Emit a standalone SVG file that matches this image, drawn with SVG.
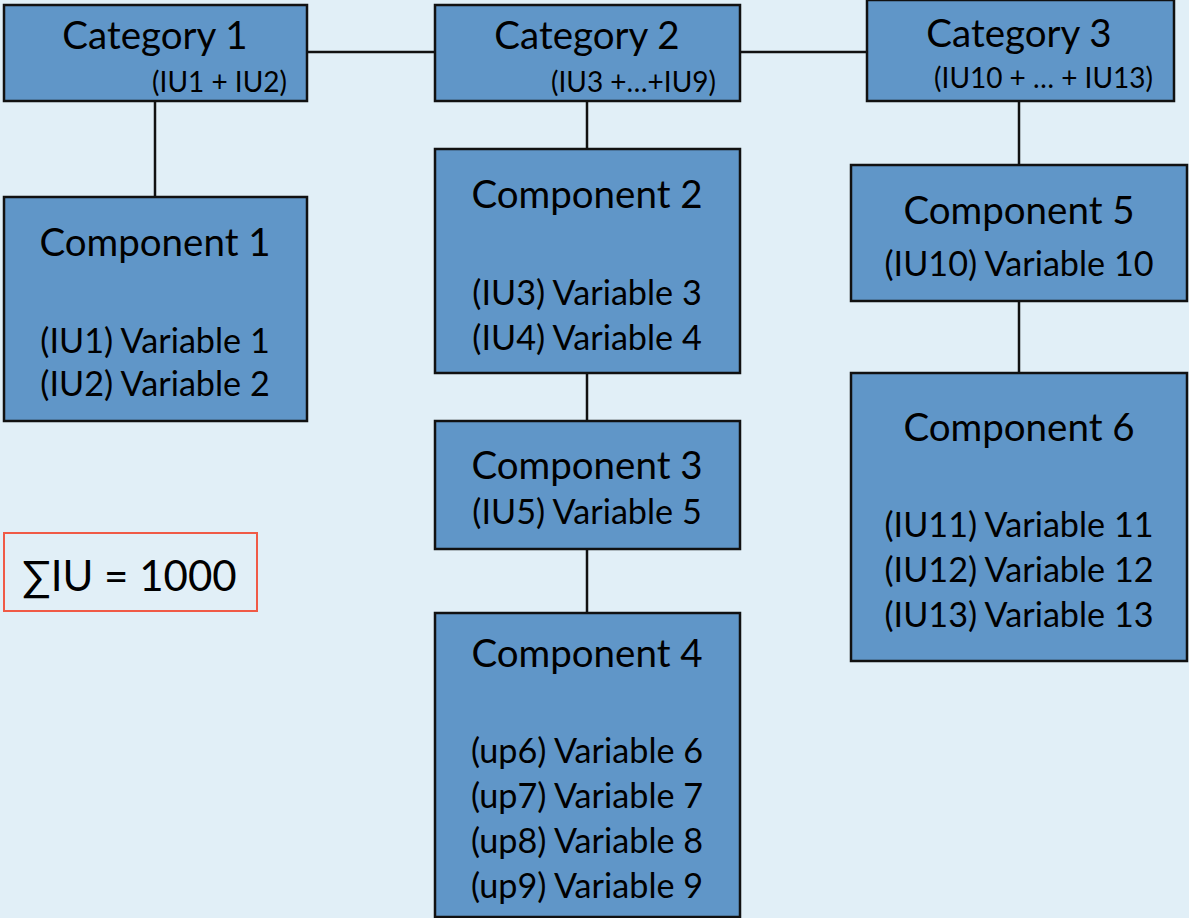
<svg xmlns="http://www.w3.org/2000/svg" width="1189" height="918" viewBox="0 0 1189 918">
<style>
.box{fill:#6096C8;stroke:#111;stroke-width:2.5}
.t{font-family:Lato,"Open Sans",sans-serif;fill:#000;text-anchor:middle;font-size:38.5px}
.v{font-size:34.2px}
.s{font-family:Lato,"Open Sans",sans-serif;fill:#000;font-size:28px;text-anchor:end}
.c line{stroke:#111;stroke-width:2.5}
</style>
<rect width="1189" height="918" fill="#E1EFF7"/>
<g class="c" id="connectors">
<line x1="307" y1="52" x2="435" y2="52"/>
<line x1="740" y1="52" x2="867" y2="52"/>
<line x1="155" y1="101" x2="155" y2="197"/>
<line x1="587" y1="101" x2="587" y2="149"/>
<line x1="587" y1="373" x2="587" y2="421"/>
<line x1="587" y1="549" x2="587" y2="613"/>
<line x1="1019" y1="101" x2="1019" y2="165"/>
<line x1="1019" y1="301" x2="1019" y2="373"/>
</g>
<g id="cat1"><rect class="box" x="4" y="5" width="303" height="96"/>
<text class="t" x="155" y="49">Category 1</text><text class="s" x="287" y="92">(IU1 + IU2)</text></g>
<g id="cat2"><rect class="box" x="435" y="5" width="305" height="96"/>
<text class="t" x="587" y="49">Category 2</text><text class="s" x="716" y="92">(IU3 +…+IU9)</text></g>
<g id="cat3"><rect class="box" x="867" y="0" width="307" height="101"/>
<text class="t" x="1019" y="47">Category 3</text><text class="s" x="1153" y="88">(IU10 + … + IU13)</text></g>
<g id="comp1"><rect class="box" x="4" y="197" width="303" height="224"/>
<text class="t" x="155" y="256">Component 1</text>
<text class="t v" x="155" y="353">(IU1) Variable 1</text>
<text class="t v" x="155" y="396">(IU2) Variable 2</text></g>
<g id="comp2"><rect class="box" x="435" y="149" width="305" height="224"/>
<text class="t" x="587" y="208">Component 2</text>
<text class="t v" x="587" y="305">(IU3) Variable 3</text>
<text class="t v" x="587" y="350">(IU4) Variable 4</text></g>
<g id="comp3"><rect class="box" x="435" y="421" width="305" height="128"/>
<text class="t" x="587" y="479">Component 3</text>
<text class="t v" x="587" y="524">(IU5) Variable 5</text></g>
<g id="comp4"><rect class="box" x="435" y="613" width="305" height="304"/>
<text class="t" x="587" y="667">Component 4</text>
<text class="t v" x="587" y="763">(up6) Variable 6</text>
<text class="t v" x="587" y="808">(up7) Variable 7</text>
<text class="t v" x="587" y="853">(up8) Variable 8</text>
<text class="t v" x="587" y="898">(up9) Variable 9</text></g>
<g id="comp5"><rect class="box" x="851" y="165" width="336" height="136"/>
<text class="t" x="1019" y="224">Component 5</text>
<text class="t v" x="1019" y="276">(IU10) Variable 10</text></g>
<g id="comp6"><rect class="box" x="851" y="373" width="336" height="288"/>
<text class="t" x="1019" y="441">Component 6</text>
<text class="t v" x="1019" y="537">(IU11) Variable 11</text>
<text class="t v" x="1019" y="582">(IU12) Variable 12</text>
<text class="t v" x="1019" y="627">(IU13) Variable 13</text></g>
<g id="sum"><rect x="4" y="533" width="253" height="78" fill="none" stroke="#F05A46" stroke-width="2"/>
<text class="t" x="22" y="591" style="text-anchor:start;font-size:42px">∑IU = 1000</text></g>
</svg>
